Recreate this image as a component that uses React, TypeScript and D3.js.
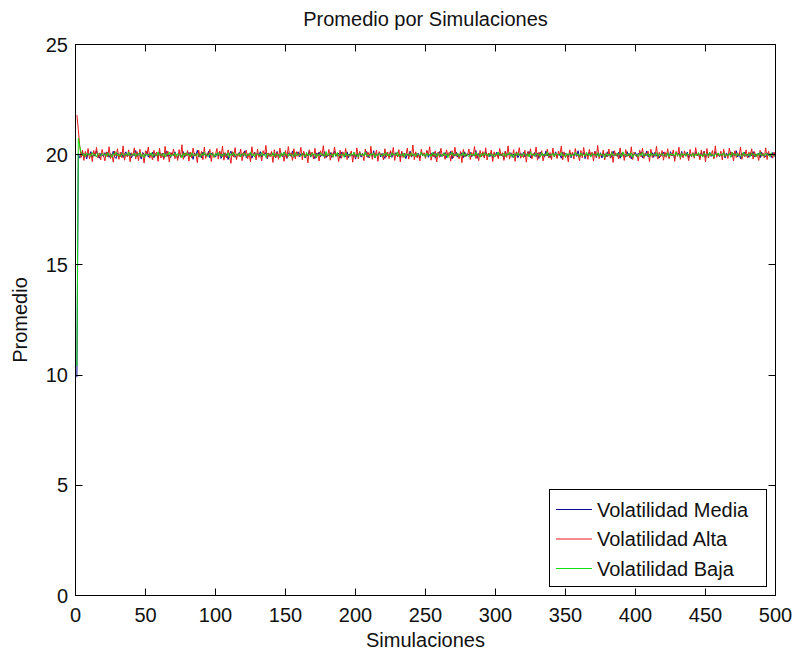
import React from "react";
import * as d3 from "d3";

// Average value per simulation for each volatility level (simulations 1..500)
const mediaSeries = [
  9.90, 20.05, 19.86, 19.92, 20.11, 19.95, 20.03, 19.81, 20.07, 19.98, 20.14, 19.89, 20.02, 19.93, 20.18, 19.97, 19.84, 20.06, 20.01, 19.91,
  20.09, 19.96, 20.12, 19.88, 20.04, 19.99, 20.16, 19.90, 19.83, 20.07, 20.00, 19.94, 20.10, 19.87, 20.03, 20.13, 19.92, 19.98, 20.08, 19.85,
  20.02, 19.95, 20.19, 19.91, 20.05, 19.97, 19.80, 20.10, 20.01, 19.93, 20.15, 19.89, 20.06, 19.96, 20.11, 19.86, 20.04, 19.99, 19.90, 20.12,
  19.94, 20.07, 19.82, 20.03, 20.17, 19.92, 20.00, 19.87, 20.09, 19.95, 20.13, 19.98, 19.84, 20.06, 20.02, 19.91, 20.14, 19.88, 20.05, 19.97,
  20.10, 19.93, 20.01, 19.79, 20.08, 19.96, 20.20, 19.90, 20.03, 19.86, 20.12, 19.99, 20.04, 19.92, 20.15, 19.85, 20.07, 19.97, 20.00, 19.89,
  20.06, 19.94, 20.13, 19.83, 19.99, 20.09, 19.91, 20.04, 19.78, 20.02, 20.16, 19.95, 20.07, 19.88, 20.01, 19.96, 20.11, 19.90, 20.05, 19.93,
  20.18, 19.87, 20.03, 19.97, 20.08, 19.84, 20.00, 20.12, 19.92, 20.06, 19.95, 20.14, 19.89, 20.02, 19.98, 20.10, 19.81, 20.05, 19.94, 20.09,
  19.99, 20.04, 19.86, 20.15, 19.93, 20.01, 20.07, 19.90, 20.11, 19.96, 19.83, 20.08, 20.03, 19.92, 20.17, 19.88, 20.00, 19.95, 20.13, 19.91,
  20.05, 19.97, 20.10, 19.85, 20.02, 19.94, 20.19, 19.89, 20.06, 19.99, 19.82, 20.08, 19.96, 20.12, 19.90, 20.04, 19.93, 20.14, 19.87, 20.01,
  19.95, 20.09, 19.88, 20.03, 20.16, 19.92, 19.99, 20.07, 19.84, 20.11, 19.97, 20.02, 19.91, 20.13, 19.86, 20.05, 20.00, 19.93, 20.10, 19.80,
  20.04, 19.96, 20.12, 19.89, 20.07, 19.94, 20.01, 20.15, 19.87, 19.98, 20.09, 19.92, 20.18, 19.85, 20.03, 19.97, 20.11, 19.90, 20.06, 19.95,
  19.83, 20.08, 20.00, 19.93, 20.14, 19.88, 20.05, 19.99, 20.10, 19.91, 20.02, 19.86, 20.13, 19.96, 20.07, 19.82, 20.04, 19.94, 20.16, 19.89,
  20.01, 19.97, 20.09, 19.92, 20.06, 19.85, 20.12, 19.95, 20.03, 19.90, 20.17, 19.88, 20.00, 20.08, 19.93, 20.11, 19.84, 20.05, 19.98, 20.14,
  19.91, 20.02, 19.96, 20.10, 19.87, 20.04, 19.99, 20.15, 19.81, 20.07, 19.94, 20.12, 19.89, 20.01, 19.97, 20.09, 19.86, 20.13, 19.92, 20.05,
  19.98, 20.11, 19.90, 20.03, 19.95, 20.19, 19.84, 20.06, 20.00, 19.93, 20.08, 19.87, 20.14, 19.96, 20.02, 19.91, 20.10, 19.85, 20.04, 19.97,
  20.12, 19.89, 20.07, 19.94, 20.01, 19.82, 20.16, 19.95, 20.05, 19.99, 20.09, 19.88, 20.03, 19.92, 20.13, 19.86, 20.00, 20.08, 19.93, 20.11,
  19.90, 20.04, 19.97, 20.15, 19.85, 20.02, 19.96, 20.10, 19.91, 20.06, 19.83, 20.12, 19.98, 20.03, 19.89, 20.17, 19.94, 20.07, 19.87, 20.01,
  20.09, 19.95, 20.13, 19.88, 20.04, 19.99, 19.84, 20.11, 19.93, 20.05, 20.00, 19.90, 20.14, 19.86, 20.08, 19.97, 20.02, 19.92, 20.18, 19.89,
  20.03, 19.96, 20.10, 19.82, 20.06, 19.94, 20.12, 19.91, 20.01, 19.98, 20.15, 19.87, 20.04, 19.93, 20.09, 19.85, 20.07, 19.99, 19.90, 20.13,
  19.95, 20.02, 19.88, 20.16, 19.97, 20.05, 19.92, 20.11, 19.84, 20.08, 19.96, 20.00, 19.89, 20.14, 19.94, 20.06, 19.81, 20.03, 19.98, 20.10,
  19.91, 20.07, 19.99, 20.13, 19.86, 20.04, 19.95, 20.17, 19.90, 20.01, 19.97, 20.09, 19.88, 20.12, 19.93, 20.05, 19.85, 20.02, 19.96, 20.11,
  19.92, 20.06, 20.00, 19.87, 20.14, 19.94, 20.03, 19.83, 20.10, 19.98, 20.08, 19.91, 20.15, 19.89, 20.04, 19.96, 20.12, 19.86, 20.01, 19.95,
  20.07, 19.90, 20.13, 19.97, 20.02, 19.84, 20.09, 19.93, 20.16, 19.88, 20.05, 19.99, 20.11, 19.92, 20.00, 19.87, 20.14, 19.95, 20.06, 19.91,
  20.03, 19.98, 20.10, 19.85, 20.08, 19.94, 20.01, 20.13, 19.89, 20.05, 19.96, 20.18, 19.90, 20.04, 19.82, 20.07, 19.97, 20.11, 19.93, 20.02,
  19.88, 20.09, 19.95, 20.14, 19.91, 20.03, 19.99, 20.06, 19.86, 20.12, 19.94, 20.00, 19.90, 20.08, 19.97, 20.04, 19.87, 20.10, 19.93, 19.98,
];

const altaSeries = [
  21.80, 21.15, 20.42, 19.88, 20.21, 19.74, 20.15, 19.92, 20.28, 19.81, 20.06, 19.69, 20.19, 19.95, 20.33, 19.86, 20.08, 19.77, 20.24, 19.98,
  19.72, 20.13, 19.90, 20.36, 19.83, 20.02, 19.66, 20.17, 19.94, 20.27, 19.79, 20.11, 19.87, 20.40, 19.75, 20.04, 19.91, 20.22, 19.68, 20.09,
  19.96, 20.31, 19.80, 20.14, 19.73, 20.25, 19.89, 20.07, 19.62, 20.18, 19.99, 20.35, 19.84, 20.03, 19.76, 20.20, 19.93, 20.12, 19.70, 20.29,
  19.85, 20.05, 19.78, 20.38, 19.92, 20.16, 19.67, 20.10, 19.97, 20.26, 19.82, 20.01, 19.74, 20.23, 19.88, 20.45, 19.79, 20.08, 19.94, 20.19,
  19.71, 20.12, 19.86, 20.30, 19.95, 20.04, 19.64, 20.21, 19.90, 20.15, 19.77, 20.34, 19.83, 20.06, 19.98, 20.24, 19.69, 20.11, 19.87, 20.02,
  20.28, 19.80, 20.17, 19.93, 20.39, 19.75, 20.09, 19.85, 20.22, 19.96, 19.61, 20.14, 19.89, 20.32, 19.78, 20.05, 19.91, 20.26, 19.73, 20.13,
  19.97, 20.20, 19.82, 20.07, 19.68, 20.36, 19.94, 20.10, 19.76, 20.25, 19.88, 20.03, 19.72, 20.18, 19.99, 20.42, 19.84, 20.08, 19.90, 20.15,
  19.65, 20.23, 19.87, 20.11, 19.79, 20.30, 19.93, 20.04, 19.70, 20.19, 19.85, 20.37, 19.96, 20.09, 19.74, 20.27, 19.81, 20.14, 19.92, 20.01,
  20.33, 19.77, 20.16, 19.89, 20.05, 19.63, 20.22, 19.98, 20.12, 19.80, 20.29, 19.86, 20.07, 19.71, 20.18, 19.95, 20.41, 19.83, 20.02, 19.91,
  20.24, 19.75, 20.10, 19.88, 20.35, 19.97, 20.06, 19.69, 20.20, 19.84, 20.13, 19.92, 20.28, 19.78, 20.03, 19.94, 20.17, 19.66, 20.09, 19.87,
  20.31, 19.81, 20.15, 19.96, 20.04, 19.73, 20.26, 19.90, 20.11, 19.85, 20.38, 19.79, 20.08, 19.93, 20.21, 19.70, 20.14, 19.99, 20.02, 19.76,
  20.27, 19.89, 20.12, 19.82, 20.19, 19.95, 20.33, 19.74, 20.07, 19.91, 20.23, 19.68, 20.16, 19.87, 20.05, 19.97, 20.30, 19.80, 20.10, 19.92,
  20.44, 19.77, 20.13, 19.86, 20.02, 19.72, 20.25, 19.94, 20.09, 19.83, 20.20, 19.98, 20.36, 19.75, 20.06, 19.90, 20.17, 19.67, 20.12, 19.88,
  20.29, 19.93, 20.04, 19.79, 20.22, 19.96, 20.11, 19.71, 20.18, 19.85, 20.34, 19.92, 20.07, 19.81, 20.15, 19.64, 20.24, 19.89, 20.01, 19.97,
  20.26, 19.78, 20.10, 19.94, 20.37, 19.83, 20.05, 19.73, 20.19, 19.90, 20.14, 19.86, 20.31, 19.76, 20.08, 19.99, 20.21, 19.69, 20.13, 19.91,
  20.03, 19.82, 20.28, 19.95, 20.09, 19.74, 20.16, 19.88, 20.40, 19.80, 20.06, 19.93, 20.23, 19.70, 20.12, 19.97, 20.32, 19.84, 20.02, 19.87,
  20.20, 19.66, 20.14, 19.92, 20.27, 19.81, 20.07, 19.96, 20.35, 19.75, 20.11, 19.89, 20.18, 19.72, 20.04, 19.94, 20.25, 19.85, 20.10, 19.78,
  20.30, 19.90, 20.08, 19.83, 20.17, 19.98, 20.39, 19.77, 20.13, 19.87, 20.05, 19.68, 20.22, 19.93, 20.11, 19.80, 20.28, 19.95, 20.01, 19.73,
  20.19, 19.86, 20.33, 19.91, 20.06, 19.79, 20.24, 19.97, 20.12, 19.71, 20.15, 19.88, 20.42, 19.82, 20.03, 19.94, 20.21, 19.76, 20.09, 19.90,
  20.26, 19.84, 20.14, 19.65, 20.18, 19.96, 20.07, 19.81, 20.31, 19.89, 20.10, 19.74, 20.23, 19.92, 20.04, 19.86, 20.36, 19.78, 20.12, 19.95,
  20.01, 19.72, 20.20, 19.90, 20.29, 19.83, 20.08, 19.97, 20.16, 19.69, 20.25, 19.87, 20.05, 19.93, 20.38, 19.80, 20.11, 19.91, 20.19, 19.75,
  20.13, 19.88, 20.27, 19.82, 20.06, 19.95, 20.22, 19.70, 20.15, 19.92, 20.34, 19.79, 20.09, 19.86, 20.17, 19.98, 20.03, 19.73, 20.24, 19.89,
  20.10, 19.84, 20.32, 19.94, 20.07, 19.77, 20.21, 19.90, 20.14, 19.67, 20.28, 19.85, 20.02, 19.96, 20.19, 19.81, 20.40, 19.88, 20.08, 19.93,
  20.16, 19.76, 20.25, 19.91, 20.04, 19.83, 20.30, 19.97, 20.12, 19.72, 20.18, 19.87, 20.09, 19.94, 20.35, 19.79, 20.06, 19.90, 20.22, 19.85,
  20.11, 19.95, 20.27, 19.80, 20.14, 19.89, 20.03, 19.74, 20.20, 19.92, 20.08, 19.86, 20.31, 19.78, 20.16, 19.93, 20.05, 19.84, 20.12, 19.90,
];

const bajaSeries = [
  10.40, 20.75, 20.38, 20.12, 19.96, 20.05, 19.91, 20.08, 19.98, 20.03, 19.93, 20.10, 19.97, 20.02, 19.89, 20.07, 20.00, 19.94, 20.06, 19.99,
  20.04, 19.92, 20.09, 19.96, 20.01, 19.88, 20.06, 19.98, 20.11, 19.95, 20.03, 19.90, 20.07, 20.00, 19.93, 20.05, 19.97, 20.12, 19.94, 20.02,
  19.99, 20.08, 19.91, 20.04, 19.96, 20.10, 19.92, 20.01, 19.87, 20.06, 19.98, 20.03, 19.95, 20.09, 19.90, 20.05, 20.00, 19.93, 20.13, 19.97,
  20.02, 19.94, 20.07, 19.89, 20.04, 19.99, 20.11, 19.92, 20.00, 19.96, 20.08, 19.91, 20.05, 19.97, 20.01, 19.86, 20.06, 19.95, 20.10, 19.98,
  20.03, 19.90, 20.09, 19.96, 20.02, 19.93, 20.07, 19.99, 19.88, 20.05, 19.97, 20.12, 19.94, 20.01, 19.92, 20.08, 19.98, 20.04, 19.89, 20.06,
  19.95, 20.10, 19.97, 20.03, 19.91, 20.06, 20.00, 19.94, 20.09, 19.87, 20.04, 19.98, 20.11, 19.93, 20.02, 19.96, 20.07, 19.90, 20.05, 19.99,
  20.08, 19.92, 20.01, 19.97, 20.13, 19.95, 20.04, 19.89, 20.06, 19.99, 20.02, 19.93, 20.10, 19.96, 20.03, 19.88, 20.07, 19.98, 20.00, 19.94,
  20.09, 19.91, 20.05, 19.97, 20.02, 19.86, 20.08, 19.95, 20.12, 19.99, 20.03, 19.92, 20.06, 19.96, 20.01, 19.90, 20.10, 19.94, 20.04, 19.98,
  19.93, 20.07, 20.00, 19.89, 20.11, 19.96, 20.03, 19.92, 20.08, 19.98, 20.05, 19.87, 20.02, 19.95, 20.09, 19.97, 20.01, 19.91, 20.14, 19.94,
  20.06, 19.99, 20.03, 19.90, 20.07, 19.95, 20.10, 19.93, 20.00, 19.97, 20.04, 19.88, 20.09, 19.96, 20.02, 19.92, 20.06, 19.98, 20.11, 19.94,
  20.01, 19.89, 20.08, 19.97, 20.04, 19.93, 20.12, 19.96, 20.00, 19.91, 20.05, 19.98, 20.09, 19.87, 20.03, 19.95, 20.07, 19.99, 19.92, 20.06,
  19.97, 20.10, 19.94, 20.02, 19.90, 20.08, 19.98, 20.04, 19.96, 20.13, 19.92, 20.01, 19.95, 20.07, 19.88, 20.05, 19.99, 20.03, 19.93, 20.09,
  19.96, 20.04, 19.91, 20.06, 20.00, 19.94, 20.11, 19.97, 20.02, 19.89, 20.08, 19.95, 20.03, 19.92, 20.10, 19.98, 20.05, 19.90, 20.07, 19.97,
  20.01, 19.93, 20.09, 19.96, 20.04, 19.87, 20.06, 19.99, 20.12, 19.94, 20.02, 19.97, 20.08, 19.91, 20.03, 19.95, 20.10, 19.92, 20.05, 19.98,
  19.90, 20.07, 19.96, 20.03, 19.93, 20.11, 19.97, 20.00, 19.88, 20.06, 19.95, 20.09, 19.99, 20.04, 19.92, 20.08, 19.96, 20.02, 19.89, 20.05,
  19.98, 20.12, 19.94, 20.01, 19.97, 20.07, 19.91, 20.04, 19.99, 20.10, 19.93, 20.03, 19.86, 20.06, 19.96, 20.09, 19.95, 20.02, 19.92, 20.08,
  20.00, 19.94, 20.05, 19.90, 20.11, 19.97, 20.03, 19.92, 20.07, 19.98, 20.02, 19.89, 20.09, 19.95, 20.04, 19.96, 20.13, 19.93, 20.01, 19.97,
  20.06, 19.91, 20.08, 19.99, 20.03, 19.94, 20.10, 19.96, 20.00, 19.88, 20.05, 19.97, 20.07, 19.92, 20.02, 19.95, 20.11, 19.98, 20.04, 19.90,
  20.08, 19.96, 20.01, 19.93, 20.12, 19.97, 20.04, 19.89, 20.06, 19.99, 20.02, 19.94, 20.09, 19.91, 20.05, 19.98, 20.00, 19.87, 20.07, 19.95,
  20.03, 19.92, 20.10, 19.96, 20.01, 19.94, 20.08, 19.99, 20.05, 19.90, 20.13, 19.97, 20.02, 19.93, 20.06, 19.95, 20.09, 19.88, 20.04, 19.98,
  20.00, 19.91, 20.07, 19.96, 20.11, 19.93, 20.03, 19.98, 20.05, 19.89, 20.08, 19.95, 20.02, 19.97, 20.10, 19.92, 20.04, 19.99, 20.06, 19.94,
  20.01, 19.96, 20.09, 19.90, 20.05, 19.98, 20.03, 19.93, 20.12, 19.95, 20.02, 19.88, 20.07, 19.97, 20.04, 19.92, 20.08, 19.99, 20.00, 19.94,
  20.06, 19.91, 20.03, 19.97, 20.10, 19.95, 20.01, 19.89, 20.07, 19.98, 20.04, 19.93, 20.11, 19.96, 20.02, 19.90, 20.05, 19.99, 20.08, 19.94,
  20.03, 19.97, 20.09, 19.92, 20.01, 19.95, 20.06, 19.88, 20.10, 19.98, 20.04, 19.93, 20.07, 19.96, 20.00, 19.91, 20.12, 19.97, 20.02, 19.94,
  20.05, 19.92, 20.08, 19.99, 20.03, 19.90, 20.06, 19.96, 20.11, 19.95, 20.02, 19.93, 20.07, 19.98, 20.04, 19.91, 20.09, 19.97, 20.00, 19.96,
];

const seriesNames = ["Volatilidad Media", "Volatilidad Alta", "Volatilidad Baja"];
const seriesColors = ["#0a0a9a", "#e81818", "#10e010"];
const xTicks = [0, 50, 100, 150, 200, 250, 300, 350, 400, 450, 500];
const yTicks = [0, 5, 10, 15, 20, 25];

const W = 794;
const H = 654;
const plot = { left: 75.5, right: 775.5, top: 44.5, bottom: 595.5 };
const FONT = "'Liberation Sans', Arial, Helvetica, sans-serif";
const TICK = 7;

export default function App() {
  const x = d3.scaleLinear().domain([0, 500]).range([plot.left, plot.right]);
  const y = d3.scaleLinear().domain([0, 25]).range([plot.bottom, plot.top]);
  const line = d3
    .line<number>()
    .x((_, i) => x(i + 1))
    .y((v) => y(v));

  const allSeries = [mediaSeries, altaSeries, bajaSeries];

  const legend = { x0: 549.5, x1: 766.5, y0: 489.5, y1: 586.5 };
  const legendRows = [509.5, 539, 568.5];

  return (
    <svg
      width={W}
      height={H}
      style={{ position: "absolute", left: 0, top: 0, background: "#fff" }}
      fontFamily={FONT}
    >
      <rect x={0} y={0} width={W} height={H} fill="#fff" />

      {/* data lines */}
      <g fill="none" strokeWidth={1}>
        {allSeries.map((s, k) => (
          <path key={k} d={line(s) || ""} stroke={seriesColors[k]} strokeLinejoin="round" />
        ))}
      </g>

      {/* axes box */}
      <rect
        x={plot.left}
        y={plot.top}
        width={plot.right - plot.left}
        height={plot.bottom - plot.top}
        fill="none"
        stroke="#000"
        strokeWidth={1}
      />

      {/* ticks */}
      <g stroke="#000" strokeWidth={1}>
        {xTicks.map((t) => {
          const px = Math.round(x(t) - 0.5) + 0.5;
          return (
            <g key={"xt" + t}>
              <line x1={px} x2={px} y1={plot.bottom} y2={plot.bottom - TICK} />
              <line x1={px} x2={px} y1={plot.top} y2={plot.top + TICK} />
            </g>
          );
        })}
        {yTicks.map((t) => {
          const py = Math.round(y(t) - 0.5) + 0.5;
          return (
            <g key={"yt" + t}>
              <line x1={plot.left} x2={plot.left + TICK} y1={py} y2={py} />
              <line x1={plot.right} x2={plot.right - TICK} y1={py} y2={py} />
            </g>
          );
        })}
      </g>

      {/* tick labels */}
      <g fontSize={20} fill="#111">
        {xTicks.map((t) => (
          <text key={"xl" + t} x={x(t)} y={622} textAnchor="middle">
            {t}
          </text>
        ))}
        {yTicks.map((t) => (
          <text key={"yl" + t} x={68} y={y(t) + 7} textAnchor="end">
            {t}
          </text>
        ))}
      </g>

      {/* titles */}
      <text x={(plot.left + plot.right) / 2} y={26} textAnchor="middle" fontSize={20} fill="#111">
        Promedio por Simulaciones
      </text>
      <text x={(plot.left + plot.right) / 2} y={647} textAnchor="middle" fontSize={20} fill="#111">
        Simulaciones
      </text>
      <text
        transform={`translate(27, ${(plot.top + plot.bottom) / 2}) rotate(-90)`}
        textAnchor="middle"
        fontSize={20}
        fill="#111"
      >
        Promedio
      </text>

      {/* legend */}
      <rect
        x={legend.x0}
        y={legend.y0}
        width={legend.x1 - legend.x0}
        height={legend.y1 - legend.y0}
        fill="#fff"
        stroke="#000"
        strokeWidth={1}
      />
      {seriesNames.map((name, k) => (
        <g key={name}>
          <line
            x1={556}
            x2={592}
            y1={legendRows[k]}
            y2={legendRows[k]}
            stroke={seriesColors[k]}
            strokeWidth={1}
          />
          <text x={597} y={legendRows[k] + 7} fontSize={20} fill="#111">
            {name}
          </text>
        </g>
      ))}
    </svg>
  );
}
